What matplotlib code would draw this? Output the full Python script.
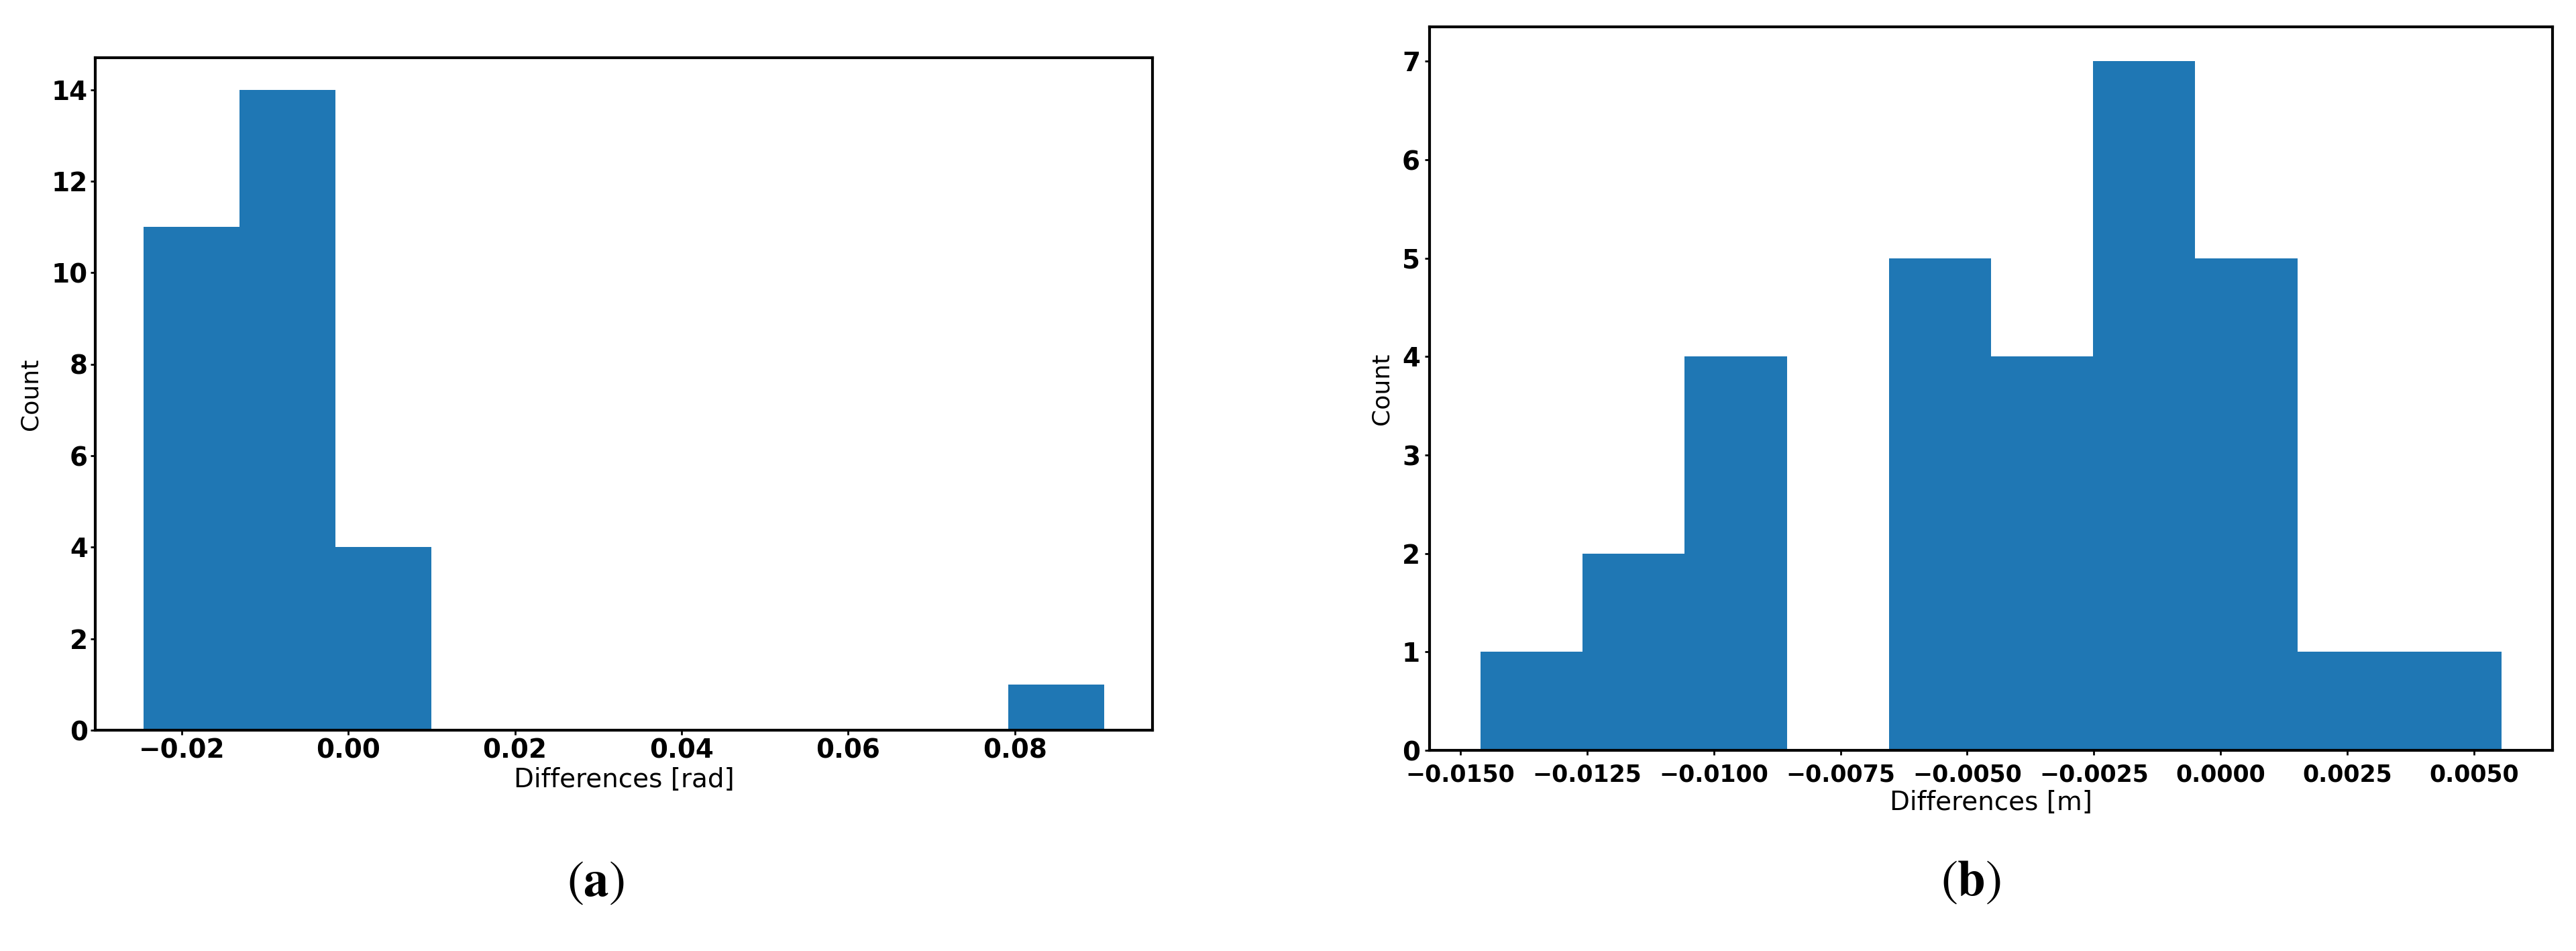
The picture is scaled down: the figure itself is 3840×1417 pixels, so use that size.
import numpy as np
import matplotlib
matplotlib.use("Agg")
import matplotlib.pyplot as plt

# histogram bins
rad_edges = [-0.02460, -0.01306, -0.00153, 0.01001, 0.02154, 0.03308,
             0.04462, 0.05615, 0.06769, 0.07922, 0.09076]
rad_counts = [11, 14, 4, 0, 0, 0, 0, 0, 0, 1]

m_edges = [-0.014602, -0.012588, -0.010573, -0.008559, -0.006544, -0.004530,
           -0.002515, -0.000501, 0.001514, 0.003528, 0.005543]
m_counts = [1, 2, 4, 0, 5, 4, 7, 5, 1, 1]

xlabels = ["Differences [rad]", "Differences [m]"]
panel_tags = [r"$(\mathbf{a})$", r"$(\mathbf{b})$"]

plt.rcParams['mathtext.fontset'] = 'stix'

W, H = 3841, 1417
fig = plt.figure(figsize=(W / 100, H / 100), dpi=100)

ax1 = fig.add_axes([142 / W, 1 - 1088 / H, (1718 - 142) / W, (1088 - 86) / H])
ax2 = fig.add_axes([2131 / W, 1 - 1118 / H, (3805 - 2131) / W, (1118 - 40) / H])

datasets = [(rad_edges, rad_counts), (m_edges, m_counts)]
for ax, (edges, counts), xl in zip([ax1, ax2], datasets, xlabels):
    edges = np.array(edges)
    ax.hist(edges[:-1], bins=edges, weights=counts, color='#1f77b4')
    ax.set_xlabel(xl, fontsize=28, labelpad=4)
    ax.set_ylabel("Count", fontsize=26, labelpad=10)
    for sp in ax.spines.values():
        sp.set_linewidth(3)
    ax.tick_params(axis='both', labelsize=28, width=2, length=5, pad=3)

ax1.set_yticks([0, 2, 4, 6, 8, 10, 12, 14])
ax2.set_yticks([0, 1, 2, 3, 4, 5, 6, 7])
ax2.set_xticks([-0.015, -0.0125, -0.01, -0.0075, -0.005, -0.0025, 0.0, 0.0025, 0.005])
ax2.tick_params(axis='x', labelsize=25, pad=9)
ax2.tick_params(axis='y', pad=5)
for ax in [ax1, ax2]:
    for lab in ax.get_xticklabels() + ax.get_yticklabels():
        lab.set_fontweight('bold')

fig.text(888 / W, 1 - 1314 / H, panel_tags[0], fontsize=54, ha='center', va='center')
fig.text(2938 / W, 1 - 1313 / H, panel_tags[1], fontsize=54, ha='center', va='center')

fig.savefig("out.png", dpi=100)
